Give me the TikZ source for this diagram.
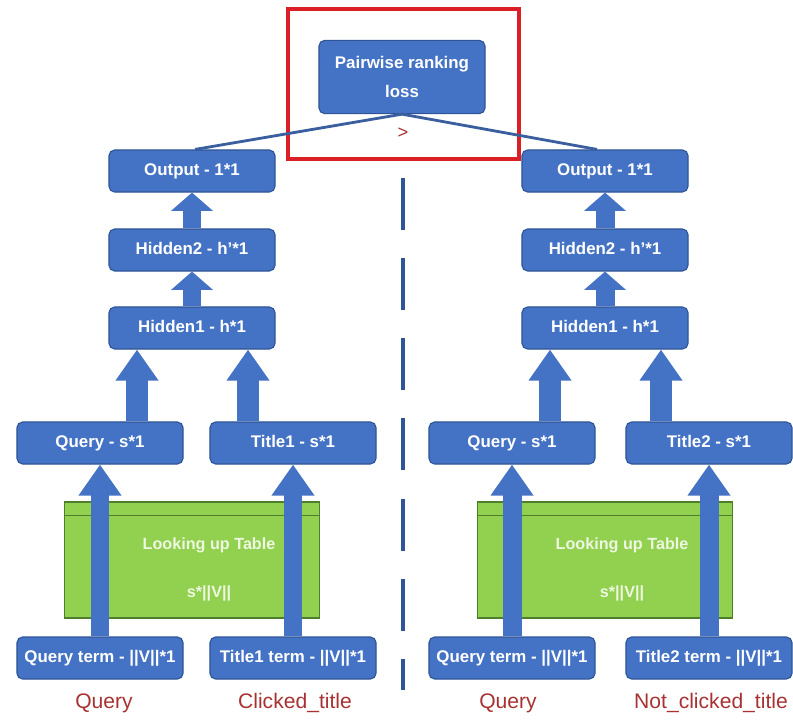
\documentclass[tikz,border=0pt]{standalone}
\usepackage{fontspec}
\setmainfont{Liberation Sans}
\usetikzlibrary{arrows.meta, calc}
\definecolor{boxblue}{HTML}{4472C4}
\definecolor{edgeblue}{HTML}{2F5597}
\definecolor{lineblue}{HTML}{3B5E9E}
\definecolor{tablegreen}{HTML}{92D050}
\definecolor{tableedge}{HTML}{4F7F2A}
\definecolor{tabletext}{HTML}{EEF7E0}
\definecolor{labelred}{HTML}{A83232}
\definecolor{framered}{HTML}{DA1F26}

\begin{document}
\begin{tikzpicture}[x=0.025cm, y=-0.025cm,
  layer/.style = {draw=edgeblue, line width=0.8pt, fill=boxblue, rounded corners=4pt,
    minimum width=4.15cm, minimum height=1.05cm, inner sep=0pt, text=white,
    text height=8.8pt, text depth=2.6pt,
    font=\bfseries\fontsize{12}{20}\selectfont},
  lookup/.style = {draw=tableedge, line width=0.8pt, fill=tablegreen,
    minimum width=6.375cm, minimum height=2.9cm, inner sep=0pt},
  lookuptext/.style = {text=tabletext, font=\bfseries\fontsize{11.5}{14}\selectfont},
  flow/.style = {draw=boxblue, line width=13.5pt, -{Triangle[width=29pt,length=#1]}},
  flow/.default = 13pt,
  lossline/.style = {draw=lineblue, line width=2pt},
  divider/.style = {draw=edgeblue, line width=3.5pt, dash pattern=on 37pt off 20pt},
  inputname/.style = {text=labelred, font=\fontsize{15}{17}\selectfont}]
\useasboundingbox (0,0) rectangle (793,720);

\node[layer, text height={}, text depth={}, minimum height=1.83cm, align=center] (lossbox) at (402,77) {Pairwise ranking\\loss};
\node[text=labelred, font=\fontsize{13}{15}\selectfont] (gt) at (403,133) {>};
\draw[framered, line width=3.5pt] (288,9) rectangle (519,159);

\node[layer] (outL) at (192,171) {Output - 1*1};
\node[layer] (hidTwoL) at (192,250) {Hidden2 - h'*1};
\node[layer] (hidOneL) at (192,328) {Hidden1 - h*1};
\node[layer] (qryL) at (100,443) {Query - s*1};
\node[layer] (titL) at (293,443) {Title1 - s*1};
\node[lookup] (tableL) at (192,560) {};
\draw[tableedge, line width=0.8pt] ($(tableL.north west)+(0,14)$) -- ($(tableL.north east)+(0,14)$);
\node[lookuptext] (lookL) at ($(tableL.center)+(17,-15)$) {Looking up Table};
\node[lookuptext] (sizeL) at ($(tableL.center)+(17,33)$) {s*||V||};
\node[layer] (qtermL) at (100,658) {Query term - ||V||*1};
\node[layer] (ttermL) at (293,658) {Title1 term - ||V||*1};
\node[inputname] (qnameL) at (104,703) {Query};
\node[inputname] (cnameL) at (295,703) {Clicked\_title};

\node[layer] (outR) at (605,171) {Output - 1*1};
\node[layer] (hidTwoR) at (605,250) {Hidden2 - h'*1};
\node[layer] (hidOneR) at (605,328) {Hidden1 - h*1};
\node[layer] (qryR) at (512,443) {Query - s*1};
\node[layer] (titR) at (709,443) {Title2 - s*1};
\node[lookup] (tableR) at (605,560) {};
\draw[tableedge, line width=0.8pt] ($(tableR.north west)+(0,14)$) -- ($(tableR.north east)+(0,14)$);
\node[lookuptext] (lookR) at ($(tableR.center)+(17,-15)$) {Looking up Table};
\node[lookuptext] (sizeR) at ($(tableR.center)+(17,33)$) {s*||V||};
\node[layer] (qtermR) at (512,658) {Query term - ||V||*1};
\node[layer] (ttermR) at (709,658) {Title2 term - ||V||*1};
\node[inputname] (qnameR) at (508,703) {Query};
\node[inputname] (nnameR) at (711,703) {Not\_clicked\_title};

\draw[lossline] (lossbox.south) -- ($(outL.north)+(3,0)$);
\draw[lossline] (lossbox.south) -- ($(outR.north)+(-8,0)$);

\coordinate (splitTop) at (403,178);
\coordinate (splitBot) at (403,690);
\draw[divider] (splitTop) -- (splitBot);

\draw[flow] (hidTwoL) -- (outL);
\draw[flow] (hidOneL) -- (hidTwoL);
\draw[flow=22pt, line width=16pt] ($(qryL.north)+(37,0)$) -- ($(hidOneL.south)+(-55,0)$);
\draw[flow=22pt, line width=16pt] ($(titL.north)+(-45,0)$) -- ($(hidOneL.south)+(56,0)$);
\draw[flow=22pt] (qtermL) -- (qryL);
\draw[flow=22pt] (ttermL) -- (titL);

\draw[flow] (hidTwoR) -- (outR);
\draw[flow] (hidOneR) -- (hidTwoR);
\draw[flow=22pt, line width=16pt] ($(qryR.north)+(38,0)$) -- ($(hidOneR.south)+(-55,0)$);
\draw[flow=22pt, line width=16pt] ($(titR.north)+(-48,0)$) -- ($(hidOneR.south)+(56,0)$);
\draw[flow=22pt] (qtermR) -- (qryR);
\draw[flow=22pt] (ttermR) -- (titR);
\end{tikzpicture}
\end{document}
